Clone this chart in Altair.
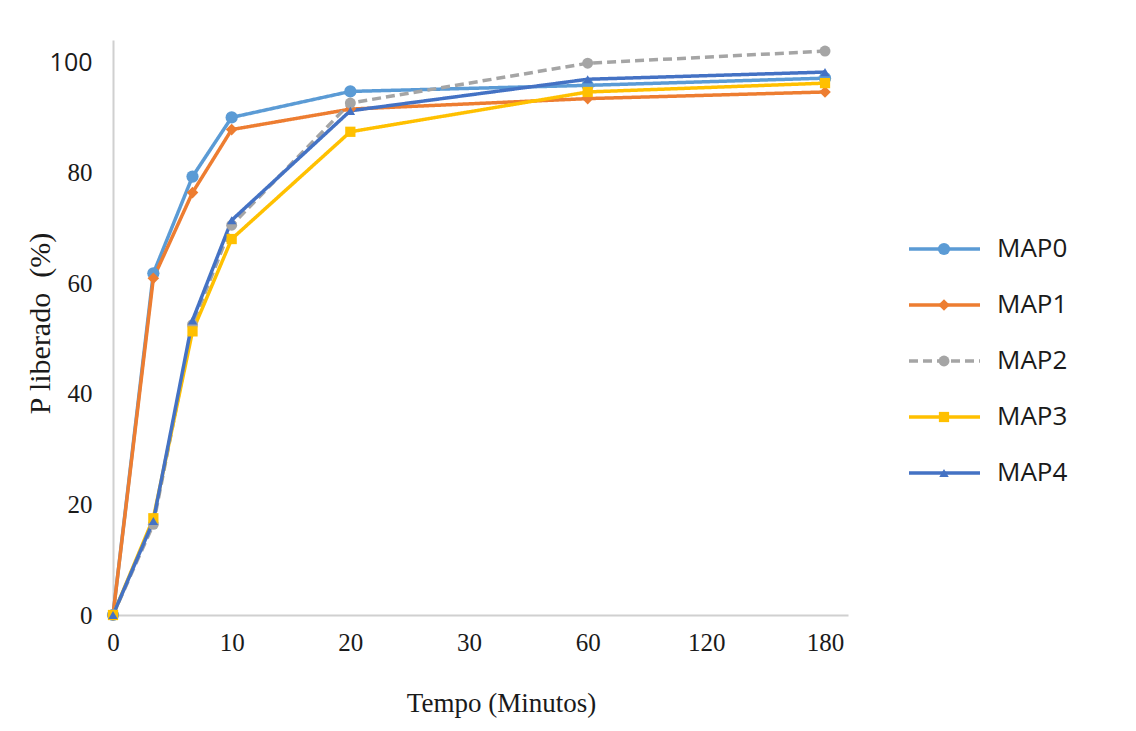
import altair as alt
import pandas as pd

series = ["MAP0", "MAP1", "MAP2", "MAP3", "MAP4"]
minutes = [0, 3.4, 6.7, 10, 20, 60, 180]
map0 = [0, 61.8, 79.3, 90.0, 94.7, 95.8, 97.1]
map1 = [0, 60.9, 76.4, 87.8, 91.5, 93.4, 94.6]
map2 = [0, 16.4, 52.5, 70.5, 92.6, 99.8, 102.0]
map3 = [0, 17.5, 51.3, 68.0, 87.4, 94.6, 96.2]
map4 = [0, 17.0, 53.3, 71.4, 91.2, 96.9, 98.2]
tick_minutes = [0, 10, 20, 30, 60, 120, 180]
y_ticks = [0, 20, 40, 60, 80, 100]

colors = ["#5B9BD5", "#ED7D31", "#A5A5A5", "#FFC000", "#4472C4"]
shapes = ["circle", "diamond", "circle", "square", "triangle-up"]
sizes = [150, 90, 150, 170, 420]
dashes = [[1, 0], [1, 0], [9, 5], [1, 0], [1, 0]]

rows = []
for name, vals in zip(series, [map0, map1, map2, map3, map4]):
    for t, v in zip(minutes, vals):
        rows.append({"serie": name, "tempo": t, "P": v})
df = pd.DataFrame(rows)

W, H = 735, 575
step = 118.67
x_domain = tick_minutes + [192]
x_range = [i * step for i in range(len(tick_minutes))] + [W]

color_s = alt.Scale(domain=series, range=colors)
shape_s = alt.Scale(domain=series, range=shapes)
size_s = alt.Scale(domain=series, range=sizes)
dash_s = alt.Scale(domain=series, range=dashes)

x_enc = alt.X(
    "tempo:Q",
    scale=alt.Scale(domain=x_domain, range=x_range, nice=False, zero=False),
    axis=alt.Axis(
        values=tick_minutes, title="Tempo (Minutos)", ticks=False, grid=False,
        labelFont="Liberation Serif", labelFontSize=25, labelColor="#1a1a1a",
        labelPadding=15, titleFont="Liberation Serif", titleFontSize=27,
        titleFontWeight="normal", titleColor="#1a1a1a",
        titleX=388, titleY=88, titleBaseline="middle",
        domainColor="#D0D0D0", domainWidth=2, labelFlush=False,
    ),
)
y_enc = alt.Y(
    "P:Q",
    scale=alt.Scale(domain=[0, 104], nice=False),
    axis=alt.Axis(
        values=y_ticks, title="P liberado\u00a0\u00a0(%)", ticks=False, grid=False,
        labelFont=alt.condition("datum.value == 100", alt.value("Open Sans"),
                                alt.value("Liberation Serif")),
        labelFontSize=25, labelColor="#1a1a1a",
        labelPadding=21, titleFont="Liberation Serif", titleFontSize=30,
        titleFontWeight="normal", titleColor="#1a1a1a",
        titleX=-73, titleY=283, titleBaseline="middle", titleAngle=270,
        domainColor="#D0D0D0", domainWidth=2,
    ),
)

base = alt.Chart(df)
lines = base.mark_line(strokeWidth=3.5).encode(
    x=x_enc, y=y_enc,
    color=alt.Color("serie:N", scale=color_s, legend=None),
    strokeDash=alt.StrokeDash("serie:N", scale=dash_s, legend=None),
    order=alt.Order("tempo:Q"),
)
points = base.mark_point(filled=True, opacity=1).encode(
    x=x_enc, y=y_enc,
    color=alt.Color("serie:N", scale=color_s, legend=None),
    shape=alt.Shape("serie:N", scale=shape_s, legend=None),
    size=alt.Size("serie:N", scale=size_s, legend=None),
)
main = alt.layer(lines, points).properties(width=W, height=H)

# manual legend
leg_df = pd.DataFrame({"serie": series, "idx": list(range(len(series)))})
lb = alt.Chart(leg_df).transform_calculate(
    ly="209 + datum.idx * 56", x0="0", x1="71", xm="35", xt="88"
)
lx = alt.Scale(domain=[0, 200], range=[0, 200])
ly = alt.Scale(domain=[0, H], range=[0, H])
leg_line = lb.mark_rule(strokeWidth=3.5).encode(
    x=alt.X("x0:Q", scale=lx, axis=None),
    x2="x1:Q",
    y=alt.Y("ly:Q", scale=ly, axis=None),
    color=alt.Color("serie:N", scale=color_s, legend=None),
    strokeDash=alt.StrokeDash("serie:N", scale=dash_s, legend=None),
)
leg_pt = lb.mark_point(filled=True, opacity=1).encode(
    x=alt.X("xm:Q", scale=lx, axis=None),
    y=alt.Y("ly:Q", scale=ly, axis=None),
    color=alt.Color("serie:N", scale=color_s, legend=None),
    shape=alt.Shape("serie:N", scale=shape_s, legend=None),
    size=alt.Size("serie:N", scale=size_s, legend=None),
)
leg_txt = lb.mark_text(align="left", baseline="middle", font="Open Sans",
                       fontSize=26, color="#1a1a1a").encode(
    x=alt.X("xt:Q", scale=lx, axis=None),
    y=alt.Y("ly:Q", scale=ly, axis=None),
    text="serie:N",
)
legend = alt.layer(leg_line, leg_pt, leg_txt).properties(width=200, height=H)

chart = alt.hconcat(main, legend, spacing=59).resolve_scale(
    x="independent", y="independent"
).properties(
    padding={"left": 25, "top": 40, "right": 5, "bottom": 5},
    background="white",
).configure_view(strokeWidth=0)

chart.save("out.html", embed_options={"renderer": "svg", "actions": False})
